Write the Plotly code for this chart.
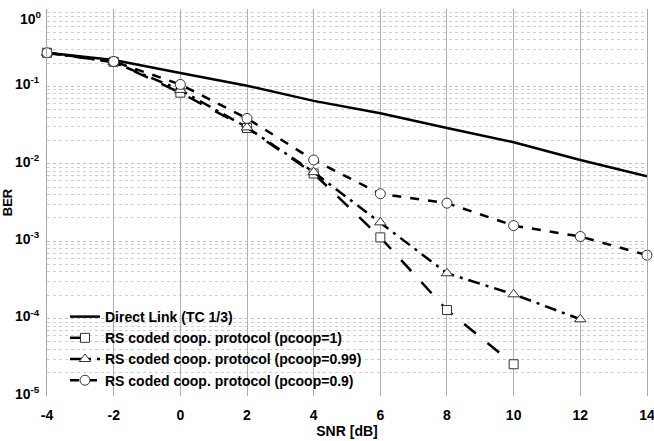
import plotly.graph_objects as go

snr_direct = [-4, -2, 0, 2, 4, 6, 8, 10, 12, 14]
ber_direct = [0.272, 0.22, 0.149, 0.102, 0.065, 0.045, 0.029, 0.019, 0.0112, 0.0069]

snr_p1 = [-4, -2, 0, 2, 4, 6, 8, 10]
ber_p1 = [0.272, 0.208, 0.083, 0.029, 0.0075, 0.00112, 0.000129, 2.57e-5]

snr_p099 = [-4, -2, 0, 2, 4, 6, 8, 10, 12]
ber_p099 = [0.272, 0.205, 0.09, 0.0295, 0.0078, 0.00175, 0.000385, 0.000206, 9.8e-5]

snr_p09 = [-4, -2, 0, 2, 4, 6, 8, 10, 12, 14]
ber_p09 = [0.272, 0.21, 0.106, 0.0386, 0.0112, 0.0041, 0.0031, 0.00159, 0.00115, 0.00066]

names = ["Direct Link (TC 1/3)",
         "RS coded coop. protocol (pcoop=1)",
         "RS coded coop. protocol (pcoop=0.99)",
         "RS coded coop. protocol (pcoop=0.9)"]

ytick_vals = [0.1, 0.01, 0.001, 0.0001, 0.00001]
ytick_text = ["10<sup>-1</sup>", "10<sup>-2</sup>",
              "10<sup>-3</sup>", "10<sup>-4</sup>", "10<sup>-5</sup>"]
ytop_label = "10<sup>0</sup>"
xtick_vals = [-4, -2, 0, 2, 4, 6, 8, 10, 12, 14]
xtick_text = ["-4", "-2", "0", "2", "4", "6", "8", "10", "12", "14"]

FONT = "Liberation Sans Narrow, Liberation Sans, Arial, sans-serif"

fig = go.Figure()
fig.add_trace(go.Scatter(x=snr_direct, y=ber_direct, mode="lines", name=names[0],
                         cliponaxis=False,
                         line=dict(color="black", width=2.5)))
fig.add_trace(go.Scatter(x=snr_p1, y=ber_p1, mode="lines+markers", name=names[1],
                         cliponaxis=False,
                         line=dict(color="black", width=2.5, dash="longdash"),
                         marker=dict(symbol="square", size=9, color="white",
                                     line=dict(color="#333333", width=1))))
fig.add_trace(go.Scatter(x=snr_p099, y=ber_p099, mode="lines+markers", name=names[2],
                         cliponaxis=False,
                         line=dict(color="black", width=2.5, dash="12px,6px,3px,6px"),
                         marker=dict(symbol="triangle-up", size=10, color="white",
                                     line=dict(color="#333333", width=1))))
fig.add_trace(go.Scatter(x=snr_p09, y=ber_p09, mode="lines+markers", name=names[3],
                         cliponaxis=False,
                         line=dict(color="black", width=2.5, dash="dash"),
                         marker=dict(symbol="circle", size=10, color="white",
                                     line=dict(color="#333333", width=1))))

fig.update_layout(
    width=654, height=441,
    margin=dict(l=47, r=7, t=9, b=45, autoexpand=False),
    paper_bgcolor="white", plot_bgcolor="white",
    font=dict(family=FONT, size=12, color="black"),
    showlegend=True,
    legend=dict(x=0.03, y=0.0, xanchor="left", yanchor="bottom",
                bgcolor="rgba(0,0,0,0)", borderwidth=0,
                font=dict(family=FONT, size=14, color="black", weight="bold"),
                tracegroupgap=0, itemwidth=30),
    annotations=[dict(text=ytop_label, xref="paper", yref="paper", x=0, y=1,
                      xanchor="right", yanchor="top", xshift=-3, yshift=2,
                      showarrow=False,
                      font=dict(family=FONT, size=14, color="black", weight="bold"))],
)
fig.update_xaxes(range=[-4.001, 14.001], tickvals=xtick_vals, ticktext=xtick_text,
                 automargin=False,
                 showgrid=True, gridcolor="#b0b0b0", gridwidth=1,
                 zeroline=False, showline=False,
                 ticks="outside", ticklen=6, tickcolor="rgba(0,0,0,0)",
                 ticklabeloverflow="allow",
                 tickfont=dict(family=FONT, size=14, color="black", weight="bold"),
                 title=dict(text="<b>SNR [dB]</b>", standoff=0,
                            font=dict(family=FONT, size=14, color="black")))
fig.update_yaxes(type="log", range=[-5.0002, 0.0002], tickvals=ytick_vals, ticktext=ytick_text,
                 automargin=False, ticklabeloverflow="allow", ticklabelshift=-2,
                 showgrid=True, gridcolor="#c0c0c0", gridwidth=1, griddash="dot",
                 minor=dict(dtick="D1", showgrid=True, gridcolor="#cfcfcf",
                            griddash="dot", gridwidth=1),
                 zeroline=False, showline=True, mirror=True,
                 linecolor="#a8a8a8", linewidth=1,
                 ticks="", ticklabelstandoff=4,
                 tickfont=dict(family=FONT, size=14, color="black", weight="bold"),
                 title=dict(text="<b>BER</b>", standoff=4,
                            font=dict(family=FONT, size=13, color="black")))

fig.write_html("out.html", config={"displayModeBar": False},
               post_script="document.body.style.margin='0px';")
